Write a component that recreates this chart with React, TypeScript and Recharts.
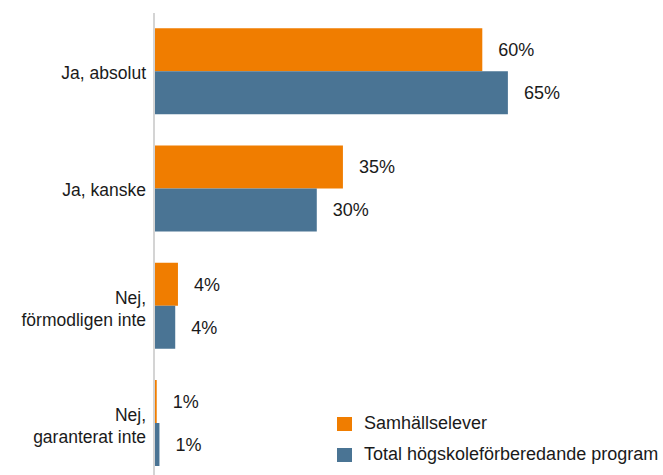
import React from "react";
import { BarChart, Bar, XAxis, YAxis, LabelList } from "recharts";

const categories = ["Ja, absolut", "Ja, kanske", "Nej,\nförmodligen inte", "Nej,\ngaranterat inte"];
const samhallselever = [60.3, 34.7, 4.4, 0.5];
const totalHogskole = [65, 29.9, 3.9, 1.0];
const seriesNames = ["Samhällselever", "Total högskoleförberedande program"];
const colors = ["#F07D00", "#4A7494"];

const data = categories.map((c, i) => ({
  name: c,
  s1: samhallselever[i],
  s2: totalHogskole[i],
}));

const FONT = "'Liberation Sans', Arial, sans-serif";
const TEXT = "#1a1a1a";

const CategoryTick = (props: any) => {
  const { x, y, payload } = props;
  const lines = String(payload.value).split("\n");
  if (lines.length === 1) {
    return (
      <text x={x} y={y + 7.5} textAnchor="end" fontFamily={FONT} fontSize={17.5} fill={TEXT}>
        {lines[0]}
      </text>
    );
  }
  return (
    <text x={x} y={y} textAnchor="end" fontFamily={FONT} fontSize={17.5} fill={TEXT}>
      <tspan x={x} y={y - 2}>{lines[0]}</tspan>
      <tspan x={x} y={y + 19.5}>{lines[1]}</tspan>
    </text>
  );
};

const fmt = (v: any) => `${Math.round(Number(v))}%`;

export default function App() {
  return (
    <div style={{ position: "absolute", left: 0, top: 0, width: 663, height: 475, overflow: "hidden", background: "#fff" }}>
      <BarChart
        width={663}
        height={482}
        data={data}
        layout="vertical"
        margin={{ top: 13, right: 19, bottom: 0, left: 0 }}
        barCategoryGap="13%"
        barGap={0}
      >
        <XAxis type="number" domain={[0, 90]} hide />
        <Bar dataKey="s1" name={seriesNames[0]} fill={colors[0]} isAnimationActive={false}>
          <LabelList dataKey="s1" position="right" offset={16} formatter={fmt} fill={TEXT} fontSize={18} fontFamily={FONT} />
        </Bar>
        <Bar dataKey="s2" name={seriesNames[1]} fill={colors[1]} isAnimationActive={false}>
          <LabelList dataKey="s2" position="right" offset={16} formatter={fmt} fill={TEXT} fontSize={18} fontFamily={FONT} />
        </Bar>
        <YAxis
          type="category"
          dataKey="name"
          width={154}
          tickLine={false}
          axisLine={{ stroke: "#d4d4d4", strokeWidth: 2 }}
          tick={<CategoryTick />}
          interval={0}
        />
      </BarChart>
      <div style={{ position: "absolute", left: 337, top: 408, fontFamily: FONT, fontSize: 18, color: TEXT }}>
        {seriesNames.map((n, i) => (
          <div key={i} style={{ display: "flex", alignItems: "center", height: 31 }}>
            <span
              style={{
                display: "inline-block",
                width: 14.5,
                height: 14,
                background: colors[i],
                marginRight: 12.5,
              }}
            />
            <span style={{ whiteSpace: "nowrap" }}>{n}</span>
          </div>
        ))}
      </div>
    </div>
  );
}
